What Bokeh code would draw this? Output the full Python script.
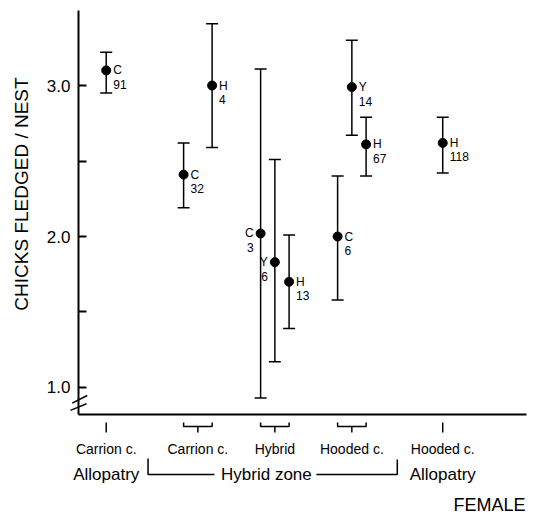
from bokeh.plotting import figure
from bokeh.models import ColumnDataSource, Whisker, TeeHead, Range1d, FixedTicker
from bokeh.embed import file_html
from bokeh.resources import INLINE
from bokeh.core.properties import value

# ---------------- data ----------------
female_groups = ["Carrion c.", "Carrion c.", "Hybrid", "Hooded c.", "Hooded c."]
zones = ["Allopatry", "Hybrid zone", "Hybrid zone", "Hybrid zone", "Allopatry"]
point_group = [0, 1, 1, 2, 2, 2, 3, 3, 3, 4]
male_type = ["C", "C", "H", "C", "Y", "H", "C", "Y", "H", "H"]
n_nests = [91, 32, 4, 3, 6, 13, 6, 14, 67, 118]
mean_chicks = [3.10, 2.41, 3.00, 2.02, 1.83, 1.70, 2.00, 2.99, 2.61, 2.62]
upper_chicks = [3.22, 2.62, 3.41, 3.11, 2.51, 2.01, 2.40, 3.30, 2.79, 2.79]
lower_chicks = [2.95, 2.19, 2.59, 0.93, 1.17, 1.39, 1.58, 2.67, 2.40, 2.42]
y_ticks = [1.0, 1.5, 2.0, 2.5, 3.0]
y_tick_labels = {1.0: "1.0", 1.5: "", 2.0: "2.0", 2.5: "", 3.0: "3.0"}
x_title = "FEMALE"
y_title = "CHICKS FLEDGED / NEST"

# ---------------- layout ----------------
W, H = 532, 515
LEFT, RIGHT, TOP, BOTTOM = 78, 6, 10, 101
FRAME_W = W - LEFT - RIGHT
FRAME_H = H - TOP - BOTTOM
X0, X1 = 0.0, 5.818
Y0, Y1 = 0.821, 3.497
SX = FRAME_W / (X1 - X0)     # px per x unit
SY = FRAME_H / (Y1 - Y0)     # px per y unit
group_x = [0.36, 1.55, 2.55, 3.55, 4.73]
type_offset = {"C": -0.185, "Y": 0.0, "H": 0.185}
labels_on_left = [False, False, False, True, True, False, False, False, False, False]
FONT = "Liberation Sans"
TITLE_PAD = "\u00a0" * 7   # shifts the y title up along the axis, as in the original


def below(dpx):
    """y coordinate dpx pixels below the x axis"""
    return Y0 - dpx / SY


counts = [point_group.count(g) for g in range(len(female_groups))]
px = [group_x[g] + (type_offset[t] if counts[g] > 1 else 0.0)
      for g, t in zip(point_group, male_type)]

src = ColumnDataSource(dict(x=px, mean=mean_chicks, upper=upper_chicks, lower=lower_chicks))


def sub(flag):
    idx = [i for i, l in enumerate(labels_on_left) if l == flag]
    return ColumnDataSource(dict(
        x=[px[i] for i in idx], y=[mean_chicks[i] for i in idx],
        letter=[male_type[i] for i in idx], num=[str(n_nests[i]) for i in idx]))


# ---------------- plot ----------------
p = figure(width=W, height=H, x_range=Range1d(X0, X1), y_range=Range1d(Y0, Y1),
           output_backend="svg", toolbar_location=None,
           min_border_left=LEFT, min_border_right=RIGHT, min_border_top=TOP, min_border_bottom=BOTTOM)
p.grid.visible = False
p.outline_line_color = None

ya = p.yaxis[0]
ya.ticker = FixedTicker(ticks=y_ticks)
ya.major_label_overrides = y_tick_labels
ya.major_tick_in = 8
ya.major_tick_out = 0
ya.minor_tick_in = 0
ya.minor_tick_out = 0
ya.axis_line_width = 2
ya.major_tick_line_width = 2
ya.major_label_standoff = 8
ya.major_label_text_font = FONT
ya.major_label_text_font_size = "17px"
ya.major_label_text_color = "black"
ya.axis_label = TITLE_PAD + y_title
ya.axis_label_text_font = FONT
ya.axis_label_text_font_size = "19px"
ya.axis_label_text_font_style = "normal"
ya.axis_label_text_color = "black"
ya.axis_label_standoff = 12

xa = p.xaxis[0]
xa.ticker = FixedTicker(ticks=[])
xa.major_tick_in = 0
xa.major_tick_out = 0
xa.minor_tick_in = 0
xa.minor_tick_out = 0
xa.major_label_standoff = 0
xa.major_label_text_font_size = "0px"
xa.axis_line_width = 2

# axis break marks
p.segment(x0=[-0.082, -0.104], y0=[0.896, 0.848], x1=[0.113, 0.104], y1=[0.947, 0.892],
          line_width=1.5, line_color="black", level="overlay")

p.add_layout(Whisker(source=src, base="x", upper="upper", lower="lower", dimension="height",
                     line_width=1.5, line_color="black",
                     upper_head=TeeHead(size=12, line_width=1.5, line_color="black"),
                     lower_head=TeeHead(size=12, line_width=1.5, line_color="black")))
p.scatter("x", "mean", source=src, size=9, color="black")

for flag in (False, True):
    s = sub(flag)
    xo = -7 if flag else 7
    al = "right" if flag else "left"
    p.text("x", "y", text="letter", source=s, x_offset=xo, y_offset=0, text_align=al,
           text_baseline="middle", text_font=value(FONT), text_font_size="12px", text_color="black")
    p.text("x", "y", text="num", source=s, x_offset=xo, y_offset=14, text_align=al,
           text_baseline="middle", text_font=value(FONT), text_font_size="12px", text_color="black")

# ---------------- group annotations below the axis ----------------
bxs, bys, cx = [], [], []
for g in range(len(female_groups)):
    gx = [px[i] for i, pg in enumerate(point_group) if pg == g]
    lo, hi = min(gx), max(gx)
    c = (lo + hi) / 2
    cx.append(c)
    if lo == hi:
        bxs.append([c, c]); bys.append([below(8), below(18)])
    else:
        bxs.append([lo, lo, hi, hi]); bys.append([below(8), below(12), below(12), below(8)])
        bxs.append([c, c]); bys.append([below(12), below(18)])
p.multi_line(bxs, bys, line_width=1.5, line_color="black", level="overlay")

p.text(cx, [below(34)] * len(cx), text=female_groups, text_align="center", text_baseline="middle",
       text_font=value(FONT), text_font_size="14px", text_color="black", level="overlay")

allo = [i for i, z in enumerate(zones) if z == "Allopatry"]
hz = [i for i, z in enumerate(zones) if z == "Hybrid zone"]
p.text([cx[i] for i in allo], [below(60)] * len(allo), text=[zones[i] for i in allo],
       text_align="center", text_baseline="middle", text_font=value(FONT),
       text_font_size="17px", text_color="black", level="overlay")
zl = (cx[hz[0] - 1] + cx[hz[0]]) / 2 - 4 / SX
zr = (cx[hz[-1]] + cx[hz[-1] + 1]) / 2
zc = 2.44
p.text([zc], [below(60)], text=["Hybrid zone"], text_align="center", text_baseline="middle",
       text_font=value(FONT), text_font_size="17px", text_color="black", level="overlay")
p.multi_line([[zl, zl, zc - 52 / SX], [zc + 50 / SX, zr, zr]],
             [[below(44), below(60), below(60)], [below(60), below(60), below(45)]],
             line_width=1.5, line_color="black", level="overlay")

p.text([X1 - 1 / SX], [below(90)], text=[x_title], text_align="right",
       text_baseline="middle", text_font=value(FONT), text_font_size="18px",
       text_color="black", level="overlay")

open("out.html", "w").write(file_html(p, INLINE))
